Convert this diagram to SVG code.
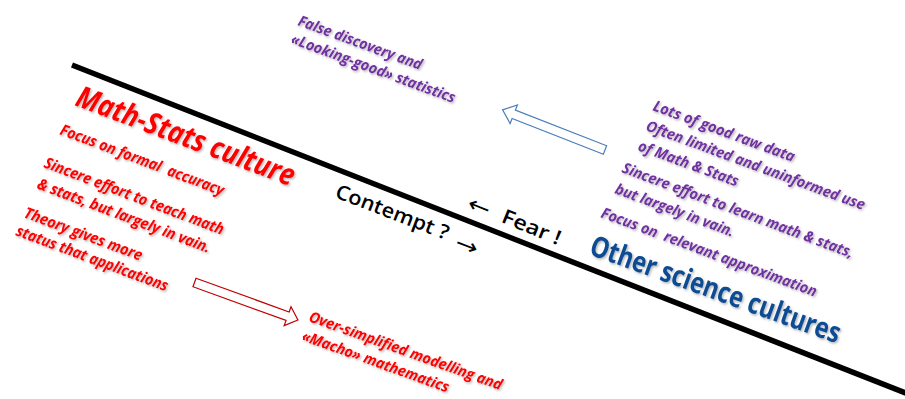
<svg xmlns="http://www.w3.org/2000/svg" width="905" height="399" viewBox="0 0 905 399">
<defs>
<filter id="sh" filterUnits="userSpaceOnUse" x="-50" y="-50" width="1005" height="499">
<feDropShadow dx="1.2" dy="1.5" stdDeviation="0.8" flood-color="#000" flood-opacity="0.3"/>
</filter>
<style>
text{font-family:"Open Sans","Liberation Sans",sans-serif;font-weight:700;}
.it{font-style:italic;}
.red{fill:#ff0000;}
.pur{fill:#7030a0;}
.blue{fill:#0b4c92;}
.blk{fill:#000;font-weight:600;}
.arr{fill:#000;font-family:"DejaVu Sans",sans-serif;font-weight:400;}
.arrowR{fill:#fff;stroke:#c00000;stroke-width:1.2;}
.arrowB{fill:#fff;stroke:#4a7ebb;stroke-width:1.2;}
</style>
</defs>
<rect width="905" height="399" fill="#fff"/>

<g id="divider">
<line x1="72" y1="65" x2="908" y2="394" stroke="#000" stroke-width="5.5"/>
</g>

<g id="connectors">
<path class="arrowR" transform="translate(194.5,282.5) rotate(19.9)" d="M0,-4.5 L99,-4.5 L99,-10 L110,0 L99,10 L99,4.5 L0,4.5 Z"/>
<path class="arrowB" transform="translate(605,150) rotate(201.4)" d="M0,-4.5 L98,-4.5 L98,-10 L110,0 L98,10 L98,4.5 L0,4.5 Z"/>
</g>

<g id="math-stats" filter="url(#sh)">
<text class="red it" font-size="30" transform="translate(74,105) rotate(20.6)" textLength="231" lengthAdjust="spacingAndGlyphs">Math-Stats culture</text>
<text class="red it" font-size="15.5" transform="translate(59,134) rotate(20.8)" textLength="174" lengthAdjust="spacingAndGlyphs" xml:space="preserve">Focus on formal  accuracy</text>
<text class="red it" font-size="15.5" transform="translate(43,167) rotate(20.8)" textLength="191" lengthAdjust="spacingAndGlyphs">Sincere effort to teach math</text>
<text class="red it" font-size="15.5" transform="translate(36,188) rotate(20.7)" textLength="184" lengthAdjust="spacingAndGlyphs">&amp; stats, but largely in vain.</text>
<text class="red it" font-size="15.5" transform="translate(23,217) rotate(20.5)" textLength="125" lengthAdjust="spacingAndGlyphs">Theory gives more</text>
<text class="red it" font-size="15.5" transform="translate(15,235) rotate(20.5)" textLength="161" lengthAdjust="spacingAndGlyphs">status that applications</text>
</g>

<g id="over-simplified" filter="url(#sh)">
<text class="red it" font-size="15" transform="translate(308,321) rotate(19.8)" textLength="204" lengthAdjust="spacingAndGlyphs">Over-simplified modelling and</text>
<text class="red it" font-size="15" transform="translate(301,340) rotate(19.8)" textLength="155" lengthAdjust="spacingAndGlyphs">«Macho» mathematics</text>
</g>

<g id="contempt" transform="translate(334,197) rotate(21)">
<text class="blk" font-size="20" x="0" y="0" textLength="120" lengthAdjust="spacingAndGlyphs">Contempt ?</text>
<text class="arr" font-size="22" x="130" y="5" textLength="23" lengthAdjust="spacingAndGlyphs">→</text>
</g>

<g id="fear" transform="translate(466,208) rotate(22)">
<text class="arr" font-size="22" x="0" y="1" textLength="23" lengthAdjust="spacingAndGlyphs">←</text>
<text class="blk" font-size="20" x="37" y="0" textLength="62" lengthAdjust="spacingAndGlyphs">Fear !</text>
</g>

<g id="other-science" filter="url(#sh)">
<text class="blue" font-size="29" font-weight="600" transform="translate(588,254) rotate(19.8)" textLength="264" lengthAdjust="spacingAndGlyphs">Other science cultures</text>
<text class="pur it" font-size="15" transform="translate(652,110) rotate(20.3)" textLength="150" lengthAdjust="spacingAndGlyphs">Lots of good raw data</text>
<text class="pur it" font-size="15" transform="translate(645,130) rotate(20.2)" textLength="232" lengthAdjust="spacingAndGlyphs">Often limited and uninformed use</text>
<text class="pur it" font-size="15" transform="translate(637,150) rotate(20.2)" textLength="106" lengthAdjust="spacingAndGlyphs">of Math &amp; Stats</text>
<text class="pur it" font-size="15" transform="translate(621,172) rotate(20.5)" textLength="246" lengthAdjust="spacingAndGlyphs">Sincere effort to learn math &amp; stats,</text>
<text class="pur it" font-size="15" transform="translate(614,193) rotate(20.4)" textLength="126" lengthAdjust="spacingAndGlyphs">but largely in vain.</text>
<text class="pur it" font-size="15" transform="translate(600,217) rotate(20.4)" textLength="229" lengthAdjust="spacingAndGlyphs" xml:space="preserve">Focus on  relevant approximation</text>
</g>

<g id="false-discovery" filter="url(#sh)">
<text class="pur it" font-size="15" transform="translate(297,25) rotate(20.1)" textLength="131" lengthAdjust="spacingAndGlyphs">False discovery and</text>
<text class="pur it" font-size="15" transform="translate(290,43) rotate(20.2)" textLength="174" lengthAdjust="spacingAndGlyphs">«Looking-good» statistics</text>
</g>
</svg>
